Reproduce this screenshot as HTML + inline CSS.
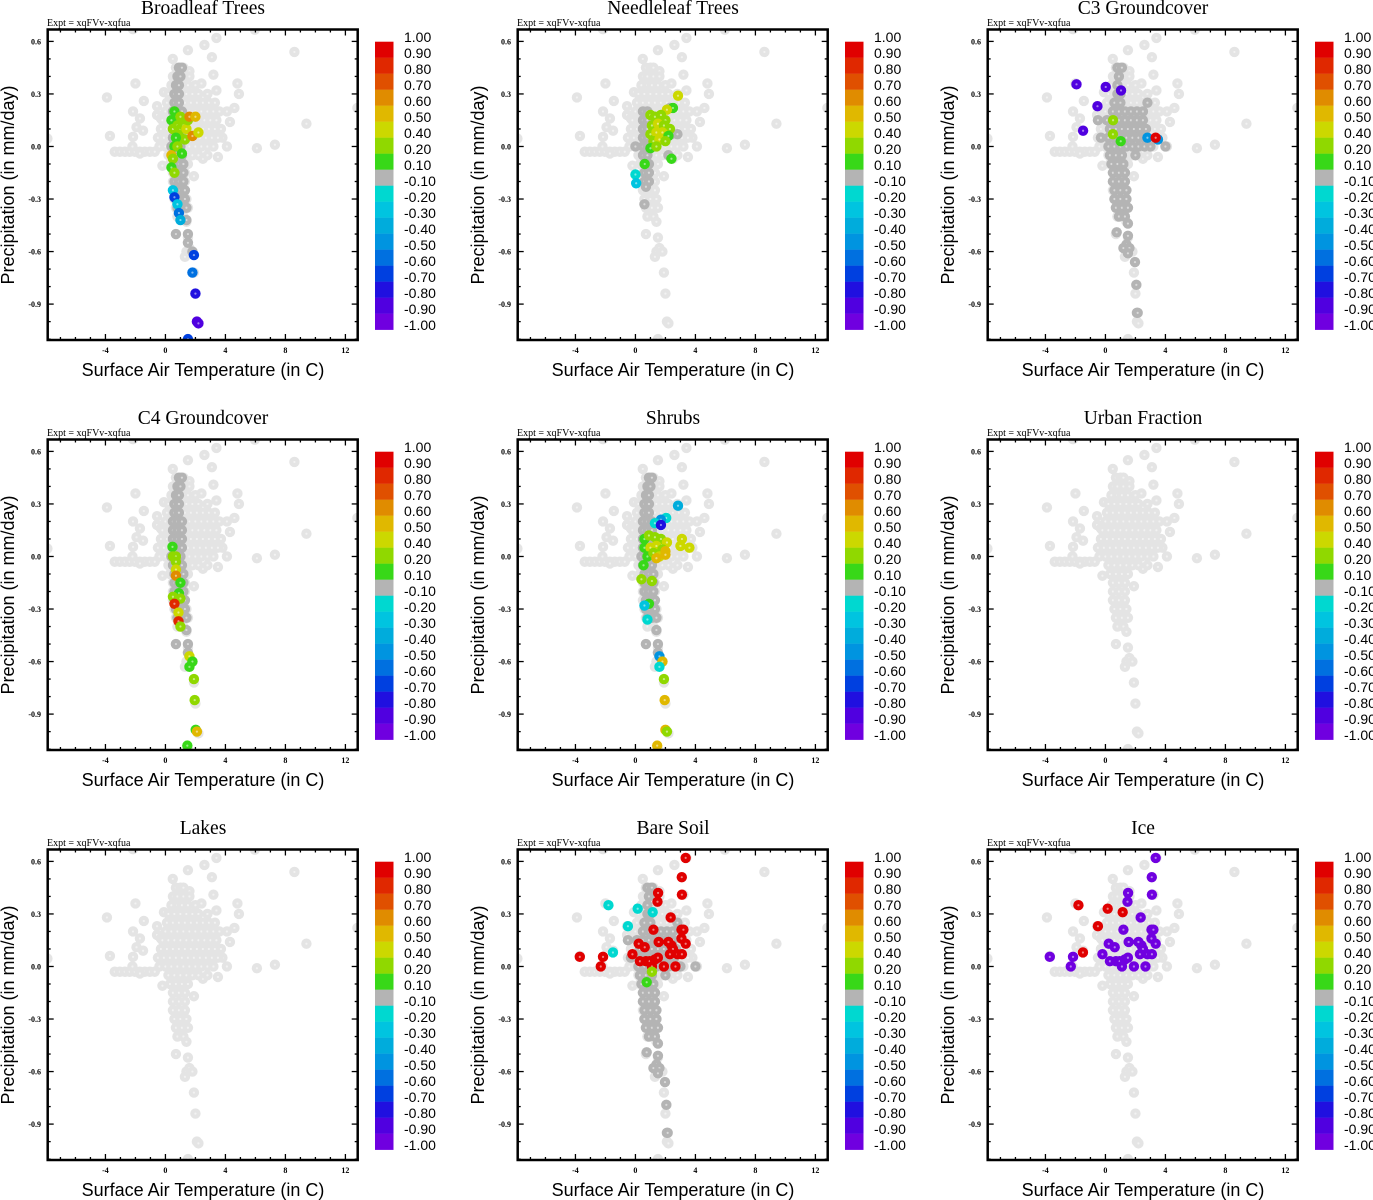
<!DOCTYPE html>
<html><head><meta charset="utf-8"><style>
html,body{margin:0;padding:0;background:#fff;}
svg{display:block;}
</style></head><body>
<svg id="fig" width="1373" height="1200" xmlns="http://www.w3.org/2000/svg"></svg>
<script>
// ---- data ----
const panelTitles = ["Broadleaf Trees","Needleleaf Trees","C3 Groundcover","C4 Groundcover","Shrubs","Urban Fraction","Lakes","Bare Soil","Ice"];
const xTicks = [-4,0,4,8,12];
const yTicks = [0.6,0.3,0.0,-0.3,-0.6,-0.9];
const cbLabels = ["1.00","0.90","0.80","0.70","0.60","0.50","0.40","0.20","0.10","-0.10","-0.20","-0.30","-0.40","-0.50","-0.60","-0.70","-0.80","-0.90","-1.00"];
const cbEdges = [1,0.9,0.8,0.7,0.6,0.5,0.4,0.2,0.1,-0.1,-0.2,-0.3,-0.4,-0.5,-0.6,-0.7,-0.8,-0.9,-1];
const cbColors = ["#e00000","#e02800","#e05000","#e08c00","#e0b800","#ccd800","#90d800","#38d818","#b4b4b4","#00d8d0","#00c4e0","#00acdc","#0094e0","#0070e0","#0040e0","#2010e0","#5000e0","#7000e0"];
const basePts = [[-3.9,0.28],[-3.7,0.06],[-7.87,0.045],[12.8,0.22],[-2.0,0.36],[-2.16,0.2],[-1.44,0.26],[-1.7,0.16],[-1.93,0.11],[-1.49,0.09],[-2.16,0.055],[-0.56,0.23],[-0.56,0.18],[-0.3,0.16],[-0.1,0.31],[-3.38,-0.03],[-3.04,-0.03],[-2.71,-0.03],[-2.38,-0.03],[-2.04,-0.03],[-1.71,-0.03],[-1.38,-0.03],[-1.04,-0.03],[-0.71,-0.03],[-2.2,0.0],[-1.7,-0.04],[0.49,0.5],[1.5,0.55],[3.1,0.51],[2.6,0.58],[3.4,0.62],[3.2,0.41],[1.6,0.43],[2.4,0.36],[3.4,0.32],[4.8,0.36],[4.9,0.3],[4.6,0.22],[4.1,0.2],[4.3,0.14],[3.8,0.05],[4.1,0.0],[3.5,-0.06],[2.5,-0.07],[1.9,-0.17],[-0.2,-0.11],[6.1,-0.01],[7.3,0.01],[8.6,0.54],[9.4,0.13],[5.96,0.667],[-2.16,0.67],[0.7,-0.5],[1.5,-0.52],[1.4,-0.6],[1.6,-0.58],[1.8,-0.6],[1.3,-0.63],[1.9,-0.72],[2.0,-0.84],[2.1,-1.0],[2.2,-1.01],[1.5,-1.1]];
const baseRows = [[0.45,[0.7,1.0,1.2]],[0.40,[0.5,0.8,1.2,1.6]],[0.35,[0.4,0.8,1.1,1.5,2.0]],[0.30,[0.2,0.6,1.0,1.4,1.8,2.2,2.8]],[0.25,[0.1,0.5,0.9,1.3,1.7,2.1,2.5,2.9,3.3]],[0.20,[0.0,0.4,0.8,1.2,1.6,2.0,2.4,2.8,3.2,3.6]],[0.15,[-0.2,0.2,0.6,1.0,1.4,1.8,2.2,2.6,3.0,3.4]],[0.10,[-0.3,0.1,0.5,0.9,1.3,1.7,2.1,2.5,2.9,3.3,3.7]],[0.05,[-0.5,-0.1,0.3,0.7,1.1,1.5,1.9,2.3,2.7,3.1,3.5]],[0.0,[-0.4,0.0,0.4,0.8,1.2,1.6,2.0,2.4,2.8,3.2]],[-0.05,[0.2,0.6,1.0,1.4,1.8,2.2,2.8]],[-0.10,[0.3,0.7,1.1,1.5]],[-0.15,[0.5,0.9,1.3]],[-0.2,[0.5,0.9,1.3]],[-0.25,[0.5,0.9,1.3]],[-0.3,[0.6,1.0,1.4]],[-0.35,[0.7,1.1,1.5]],[-0.4,[0.8,1.2]],[-0.43,[1.4]]];
const darkStrip = [[0.45,[0.9,1.1]],[0.40,[0.8,1.0]],[0.35,[0.7,0.9]],[0.3,[0.6,0.9]],[0.25,[0.6,0.9]],[0.2,[0.5,0.8,1.1]],[0.15,[0.5,0.8,1.1]],[0.1,[0.5,0.8,1.1]],[0.05,[0.5,0.8,1.1]],[0.0,[0.4,0.7,1.0]],[-0.05,[0.5,0.8,1.1]],[-0.1,[0.6,0.9,1.2]],[-0.15,[0.6,0.9,1.2]],[-0.2,[0.6,0.9,1.2]],[-0.25,[0.7,1.0,1.3]],[-0.3,[0.7,1.0,1.3]],[-0.35,[0.8,1.1,1.4]],[-0.42,[1.4]],[-0.5,[0.7,1.5]],[-0.55,[1.5]],[-0.6,[1.8]]];
const darkStripShort = [[0.2,[0.5,0.8]],[0.15,[0.5,0.8]],[0.1,[0.5,0.8]],[0.05,[0.5,0.8]],[0.0,[0.0,0.5,0.8]],[-0.05,[0.5,0.8,2.2]],[-0.1,[0.6,0.9]],[-0.15,[0.6,0.9]],[-0.2,[0.6,0.9]],[-0.23,[0.7]],[-0.33,[0.6]],[0.22,[2.3]],[0.07,[2.4,2.8]]];
const darkWide = [[0.45,[0.8,1.1]],[0.4,[0.9]],[0.35,[0.8]],[0.3,[0.8,1.0]],[0.25,[0.6,1.0,2.8]],[0.2,[0.5,0.9,1.3,1.7,2.1,2.5]],[0.15,[-0.5,0.1,0.5,0.9,1.3,1.7,2.1,2.5]],[0.1,[0.3,0.7,1.1,1.5,1.9,2.3,2.7]],[0.05,[-0.3,0.2,0.6,1.0,1.4,1.8,2.2,2.6]],[0.0,[0.2,0.6,1.0,1.4,1.8,2.2,2.6,3.0,4.0]],[-0.05,[0.3,0.7,1.1,2.0]],[-0.1,[0.4,0.8,1.2]],[-0.15,[0.5,0.9,1.3]],[-0.2,[0.5,0.9,1.3]],[-0.25,[0.6,1.0,1.4]],[-0.3,[0.6,1.0,1.4]],[-0.35,[0.7,1.1,1.5]],[-0.4,[0.9,1.3]],[-0.44,[1.5]],[-0.49,[0.75]],[-0.51,[1.5]],[-0.56,[1.4]],[-0.58,[1.2,1.6]],[-0.61,[1.5]],[-0.66,[1.97]],[-0.79,[2.06]],[-0.95,[2.1,2.15]]];
const col1 = [[0.6,0.2,0.1],[0.4,0.15,0.15],[0.5,0.1,0.2],[0.8,0.12,0.3],[1.0,0.1,0.35],[1.2,0.12,0.3],[1.4,0.1,0.4],[1.0,0.05,0.3],[1.3,0.04,0.35],[0.7,0.05,0.15],[0.6,0.0,0.12],[0.8,0.0,0.2],[1.0,0.17,0.25],[1.5,0.15,0.35],[1.6,0.17,0.65],[2.0,0.17,0.55],[1.8,0.06,0.65],[2.2,0.08,0.45],[0.4,-0.05,0.5],[0.5,-0.07,0.3],[1.1,-0.04,0.15],[0.4,-0.12,0.15],[0.6,-0.15,0.35],[0.5,-0.25,-0.3],[0.6,-0.29,-0.7],[0.8,-0.33,-0.3],[0.9,-0.38,-0.6],[1.0,-0.42,-0.35],[1.9,-0.62,-0.7],[1.8,-0.72,-0.6],[2.0,-0.84,-0.8],[2.1,-1.0,-0.85],[2.2,-1.01,-0.85],[1.5,-1.1,-0.7]];
const col2 = [[2.84,0.29,0.45],[2.5,0.22,0.12],[2.1,0.21,0.45],[1.0,0.18,0.25],[1.3,0.17,0.3],[1.7,0.18,0.3],[2.0,0.15,0.3],[1.1,0.12,0.3],[1.5,0.13,0.45],[1.9,0.12,0.3],[2.3,0.1,0.3],[1.0,0.07,0.3],[1.4,0.08,0.45],[1.8,0.08,0.45],[2.2,0.06,0.15],[1.2,0.03,0.3],[1.6,0.04,0.45],[2.0,0.03,0.3],[1.0,-0.01,0.15],[1.4,0.0,0.3],[0.62,-0.1,0.15],[2.4,-0.07,0.12],[0.0,-0.16,-0.2],[0.05,-0.21,-0.25]];
const col3 = [[-1.93,0.355,-0.9],[0.02,0.34,-0.9],[1.04,0.32,-0.9],[-0.53,0.23,-0.9],[-1.49,0.09,-0.9],[0.51,0.15,0.3],[0.5,0.07,0.25],[1.02,0.03,0.15],[2.8,0.05,-0.5],[3.5,0.04,-0.5],[3.35,0.05,0.95]];
const col4 = [[0.47,0.055,0.15],[0.5,0.0,0.2],[0.7,0.0,0.3],[0.7,-0.03,0.3],[0.7,-0.075,0.45],[0.7,-0.11,0.6],[1.0,-0.15,0.15],[0.9,-0.21,0.15],[0.5,-0.23,0.3],[1.0,-0.24,0.25],[0.6,-0.27,0.8],[0.87,-0.32,0.45],[0.87,-0.37,0.8],[1.0,-0.4,0.3],[1.6,-0.57,0.45],[1.8,-0.6,0.15],[1.6,-0.63,0.15],[1.9,-0.7,0.3],[1.95,-0.82,0.3],[2.02,-0.99,0.15],[2.1,-1.0,0.55],[1.46,-1.08,0.15]];
const col5 = [[2.84,0.29,-0.4],[2.05,0.22,-0.2],[1.7,0.21,-0.5],[1.3,0.19,-0.2],[1.7,0.18,-0.8],[0.6,0.1,0.15],[0.9,0.12,0.3],[1.3,0.11,0.3],[1.7,0.1,0.3],[2.1,0.08,0.45],[0.6,0.05,0.15],[1.0,0.05,0.45],[1.4,0.06,0.45],[1.8,0.04,0.3],[0.8,0.0,0.15],[1.2,0.02,0.3],[1.6,0.0,0.45],[3.1,0.1,0.45],[3.0,0.06,0.45],[3.6,0.05,0.4],[2.0,0.03,0.55],[2.0,0.01,0.55],[1.4,-0.01,0.55],[0.54,-0.05,0.15],[0.4,-0.13,0.3],[1.1,-0.14,0.25],[0.9,-0.27,0.15],[0.6,-0.28,-0.3],[0.8,-0.36,-0.2],[1.6,-0.57,-0.5],[1.8,-0.6,0.55],[1.6,-0.63,-0.2],[1.9,-0.7,0.3],[1.95,-0.82,0.55],[2.0,-0.99,0.55],[2.1,-1.0,0.3],[1.45,-1.08,0.55]];
const col8 = [[3.35,0.62,0.95],[3.09,0.51,0.95],[3.1,0.41,0.95],[1.51,0.42,0.95],[1.47,0.37,0.95],[2.35,0.28,0.95],[1.2,0.21,0.95],[3.07,0.21,0.95],[3.2,0.21,0.95],[3.07,0.16,0.95],[3.35,0.13,0.95],[0.22,0.13,0.95],[0.62,0.11,0.95],[1.55,0.14,0.95],[2.4,0.12,0.95],[2.5,0.1,0.95],[2.2,0.14,0.95],[2.3,0.07,0.95],[2.8,0.07,0.95],[3.1,0.07,0.95],[-0.2,0.07,0.95],[0.3,0.03,0.95],[0.7,0.03,0.95],[0.95,0.03,0.95],[1.3,0.04,0.95],[1.5,0.05,0.95],[1.9,0.0,0.95],[2.67,0.0,0.95],[1.1,0.0,0.95],[-3.71,0.055,0.95],[-2.16,0.055,0.95],[-2.31,0.0,0.95],[-1.8,0.35,-0.2],[0.15,0.33,-0.2],[1.15,0.31,-0.2],[-0.5,0.23,-0.2],[-1.5,0.08,-0.2],[1.1,-0.03,0.2],[0.75,-0.09,0.15]];
const col9 = [[3.35,0.62,-0.95],[3.09,0.51,-0.95],[3.1,0.41,-0.95],[1.51,0.42,-0.95],[1.47,0.37,-0.95],[2.35,0.28,-0.95],[1.2,0.21,-0.95],[3.07,0.21,-0.95],[3.2,0.21,-0.95],[3.07,0.16,-0.95],[3.35,0.13,-0.95],[0.22,0.13,-0.95],[0.62,0.11,-0.95],[1.55,0.14,-0.95],[2.4,0.12,-0.95],[2.5,0.1,-0.95],[2.2,0.14,-0.95],[2.3,0.07,-0.95],[2.8,0.07,-0.95],[3.1,0.07,-0.95],[-0.2,0.07,-0.95],[0.3,0.03,-0.95],[0.7,0.03,-0.95],[0.95,0.03,-0.95],[1.3,0.04,-0.95],[1.5,0.05,-0.95],[1.9,0.0,-0.95],[2.67,0.0,-0.95],[1.1,0.0,-0.95],[-3.71,0.055,-0.95],[-2.16,0.055,-0.95],[-2.31,0.0,-0.95],[-1.8,0.35,0.95],[0.15,0.33,0.95],[1.15,0.31,0.95],[-0.5,0.23,0.95],[-1.5,0.08,0.95]];
const panelDark = [darkStrip, darkStripShort, darkWide, darkStrip, darkStrip, [], [], darkWide, []];
const panelCol = [col1, col2, col3, col4, col5, [], [], col8, col9];

// ---- drawing ----
const NS = "http://www.w3.org/2000/svg";
const svg = document.getElementById("fig");
function mk(tag, attrs, parent){ const e=document.createElementNS(NS,tag); for(const k in attrs) e.setAttribute(k,attrs[k]); (parent||svg).appendChild(e); return e; }
const X0=47.7, X1=357.7, Y0=29.5, Y1=340;
const tMin=-7.85, tMax=12.82, pMax=0.668, pMin=-1.105;
function xs(t){ return X0+(t-tMin)/(tMax-tMin)*(X1-X0); }
function ys(p){ return Y0+(pMax-p)/(pMax-pMin)*(Y1-Y0); }
function colorOf(v){ for(let i=0;i<cbColors.length;i++){ if(v<=cbEdges[i] && v>=cbEdges[i+1]) return cbColors[i]; } return "#b4b4b4"; }
function dot(g,t,p,c,name){
  const cx=xs(t), cy=ys(p);
  const o=mk("circle",{cx:cx,cy:cy,r:5.2,fill:c},g);
  
  
  mk("circle",{cx:cx,cy:cy,r:1.1,fill:"#fff","fill-opacity":0.5},g);
}
for(let k=0;k<9;k++){
  const ox=(k%3)*470, oy=Math.floor(k/3)*410;
  const g=mk("g",{transform:`translate(${ox},${oy})`});
  
  
  const tt=mk("text",{x:203,y:14,"text-anchor":"middle","font-family":"Liberation Serif, serif","font-size":19.5},g); tt.textContent=panelTitles[k];
  
  
  const ex=mk("text",{x:47,y:26,"font-family":"Liberation Serif, serif","font-size":10},g); ex.textContent="Expt = xqFVv-xqfua";
  
  
  const clip="clip"+k;
  const cp=mk("clipPath",{id:clip},g); mk("rect",{x:X0,y:Y0,width:X1-X0,height:Y1-Y0},cp);
  const pg=mk("g",{"clip-path":`url(#${clip})`},g);
  basePts.forEach(d=>dot(pg,d[0],d[1],"#e4e4e4","base-point"));
  baseRows.forEach(r=>r[1].forEach(t=>dot(pg,t,r[0],"#e4e4e4","base-point")));
  panelDark[k].forEach(r=>r[1].forEach(t=>dot(pg,t,r[0],"#b4b4b4","neutral-point")));
  panelCol[k].forEach(d=>dot(pg,d[0],d[1],colorOf(d[2]),"coloured-point"));
  const fr=mk("rect",{x:X0,y:Y0,width:X1-X0,height:Y1-Y0,fill:"none",stroke:"#000","stroke-width":2.5},g);
  
  
  for(let t=-7;t<=12;t++){ const x=xs(t), L=(t%4===0)?6:3;
    mk("line",{x1:x,y1:Y1,x2:x,y2:Y1-L,stroke:"#000","stroke-width":1.3},g);
    mk("line",{x1:x,y1:Y0,x2:x,y2:Y0+L,stroke:"#000","stroke-width":1.3},g); }
  for(let i=-11;i<=6;i++){ const p=i/10, y=ys(p), L=(i%3===0)?6:3;
    mk("line",{x1:X0,y1:y,x2:X0+L,y2:y,stroke:"#000","stroke-width":1.3},g);
    mk("line",{x1:X1,y1:y,x2:X1-L,y2:y,stroke:"#000","stroke-width":1.3},g); }
  xTicks.forEach(t=>{ const e=mk("text",{x:xs(t),y:353,"text-anchor":"middle","font-family":"Liberation Serif, serif","font-size":8,"font-weight":"bold"},g); e.textContent=t;
      });
  yTicks.forEach(p=>{ const e=mk("text",{x:41,y:ys(p)+3,"text-anchor":"end","font-family":"Liberation Serif, serif","font-size":8,"font-weight":"bold"},g); e.textContent=p.toFixed(1);
      });
  const xt=mk("text",{x:203,y:376,"text-anchor":"middle","font-family":"Liberation Sans, sans-serif","font-size":18},g); xt.textContent="Surface Air Temperature (in C)";
   
  const yt=mk("text",{x:0,y:0,"text-anchor":"middle","font-family":"Liberation Sans, sans-serif","font-size":18,transform:"translate(14,185) rotate(-90)"},g); yt.textContent="Precipitation (in mm/day)";
   
  const cb=mk("g",{},g);
   
  cbColors.forEach((c,i)=>{ const r=mk("rect",{x:375,y:41.7+i*16,width:18.5,height:16.2,fill:c},cb);
      });
  cbLabels.forEach((l,i)=>{ const e=mk("text",{x:404,y:42+i*16,"font-family":"Liberation Sans, sans-serif","font-size":14},cb); e.textContent=l;
      });
}
</script>
</body></html>
